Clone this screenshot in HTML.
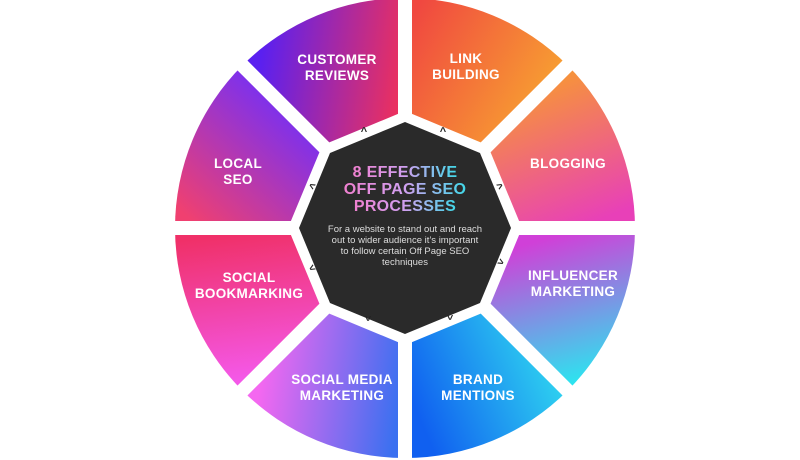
<!DOCTYPE html>
<html><head><meta charset="utf-8"><style>
html,body{margin:0;padding:0;background:#fff;width:800px;height:460px;overflow:hidden}
svg text{font-family:"Liberation Sans",sans-serif}
</style></head><body>
<svg width="800" height="460" viewBox="0 0 800 460" xmlns="http://www.w3.org/2000/svg">
<defs>
<linearGradient id="g1" gradientUnits="userSpaceOnUse" x1="260" y1="60" x2="400" y2="80"><stop offset="0" stop-color="#5a20f0"/><stop offset="1" stop-color="#ea3060"/></linearGradient>
<linearGradient id="g2" gradientUnits="userSpaceOnUse" x1="410" y1="20" x2="560" y2="110"><stop offset="0" stop-color="#f04840"/><stop offset="1" stop-color="#f8a830"/></linearGradient>
<linearGradient id="g3" gradientUnits="userSpaceOnUse" x1="540" y1="70" x2="600" y2="220"><stop offset="0" stop-color="#f89a30"/><stop offset="1" stop-color="#e840b8"/></linearGradient>
<linearGradient id="g4" gradientUnits="userSpaceOnUse" x1="560" y1="235" x2="600" y2="380"><stop offset="0" stop-color="#d040d8"/><stop offset="1" stop-color="#28e8f0"/></linearGradient>
<linearGradient id="g5" gradientUnits="userSpaceOnUse" x1="420" y1="420" x2="560" y2="360"><stop offset="0" stop-color="#1060f0"/><stop offset="1" stop-color="#30d8f0"/></linearGradient>
<linearGradient id="g6" gradientUnits="userSpaceOnUse" x1="260" y1="380" x2="400" y2="400"><stop offset="0" stop-color="#f468f0"/><stop offset="1" stop-color="#3a70f0"/></linearGradient>
<linearGradient id="g7" gradientUnits="userSpaceOnUse" x1="220" y1="235" x2="240" y2="380"><stop offset="0" stop-color="#f03068"/><stop offset="1" stop-color="#f458e8"/></linearGradient>
<linearGradient id="g8" gradientUnits="userSpaceOnUse" x1="290" y1="110" x2="190" y2="220"><stop offset="0" stop-color="#7a30f0"/><stop offset="1" stop-color="#f04070"/></linearGradient>
<linearGradient id="tg" x1="0" y1="0" x2="1" y2="0"><stop offset="0" stop-color="#f080d0"/><stop offset="0.5" stop-color="#d0a0f0"/><stop offset="1" stop-color="#40d8e8"/></linearGradient>
</defs>
<path d="M405 228 L242.4 65.4 A230 230 0 0 1 405 -2 Z" fill="url(#g1)"/>
<path d="M405 228 L405 -2 A230 230 0 0 1 567.6 65.4 Z" fill="url(#g2)"/>
<path d="M405 228 L567.6 65.4 A230 230 0 0 1 635 228 Z" fill="url(#g3)"/>
<path d="M405 228 L635 228 A230 230 0 0 1 567.6 390.6 Z" fill="url(#g4)"/>
<path d="M405 228 L567.6 390.6 A230 230 0 0 1 405 458 Z" fill="url(#g5)"/>
<path d="M405 228 L405 458 A230 230 0 0 1 242.4 390.6 Z" fill="url(#g6)"/>
<path d="M405 228 L242.4 390.6 A230 230 0 0 1 175 228 Z" fill="url(#g7)"/>
<path d="M405 228 L175 228 A230 230 0 0 1 242.4 65.4 Z" fill="url(#g8)"/>
<g stroke="#fff" stroke-width="14">
<line x1="405" y1="228" x2="405" y2="-10"/>
<line x1="405" y1="228" x2="405" y2="470"/>
<line x1="405" y1="228" x2="165" y2="228"/>
<line x1="405" y1="228" x2="645" y2="228"/>
<line x1="405" y1="228" x2="573" y2="60"/>
<line x1="405" y1="228" x2="237" y2="396"/>
<line x1="405" y1="228" x2="237" y2="60"/>
<line x1="405" y1="228" x2="573" y2="396"/>
</g>
<polygon points="405,124 478.5,154.5 509,228 478.5,301.5 405,332 331.5,301.5 301,228 331.5,154.5" fill="#2a2a2a" stroke="#fff" stroke-width="24" stroke-linejoin="round"/>
<polygon points="405,122 480,153 511,228 480,303 405,334 330,303 299,228 330,153" fill="#2a2a2a"/>
<g fill="#222" font-size="11" font-weight="bold" text-anchor="middle">
<text x="364" y="135">^</text><text x="443" y="135">^</text>
<text x="314" y="190" transform="rotate(-60 314 187)">^</text><text x="498" y="190" transform="rotate(60 498 187)">^</text>
<text x="314" y="270" transform="rotate(-120 314 267)">^</text><text x="499" y="264" transform="rotate(120 499 261)">^</text>
<text x="368" y="319" transform="rotate(180 368 316)">^</text><text x="450" y="318" transform="rotate(180 450 315)">^</text>
</g>
<g fill="#fff" font-size="13.5" font-weight="bold" text-anchor="middle" letter-spacing="0.3">
<text x="337" y="64">CUSTOMER</text><text x="337" y="80">REVIEWS</text>
<text x="466" y="63">LINK</text><text x="466" y="79">BUILDING</text>
<text x="238" y="168">LOCAL</text><text x="238" y="184">SEO</text>
<text x="568" y="168">BLOGGING</text>
<text x="249" y="282">SOCIAL</text><text x="249" y="298">BOOKMARKING</text>
<text x="573" y="280">INFLUENCER</text><text x="573" y="296">MARKETING</text>
<text x="342" y="384">SOCIAL MEDIA</text><text x="342" y="400">MARKETING</text>
<text x="478" y="384">BRAND</text><text x="478" y="400">MENTIONS</text>
</g>
<g fill="url(#tg)" font-size="16" font-weight="bold" text-anchor="middle" letter-spacing="0.3">
<text x="405" y="177">8 EFFECTIVE</text>
<text x="405" y="194">OFF PAGE SEO</text>
<text x="405" y="211">PROCESSES</text>
</g>
<g fill="#ddd" font-size="9.5" text-anchor="middle">
<text x="405" y="232">For a website to stand out and reach</text>
<text x="405" y="243">out to wider audience it’s important</text>
<text x="405" y="254">to follow certain Off Page SEO</text>
<text x="405" y="265">techniques</text>
</g>
</svg>
</body></html>
